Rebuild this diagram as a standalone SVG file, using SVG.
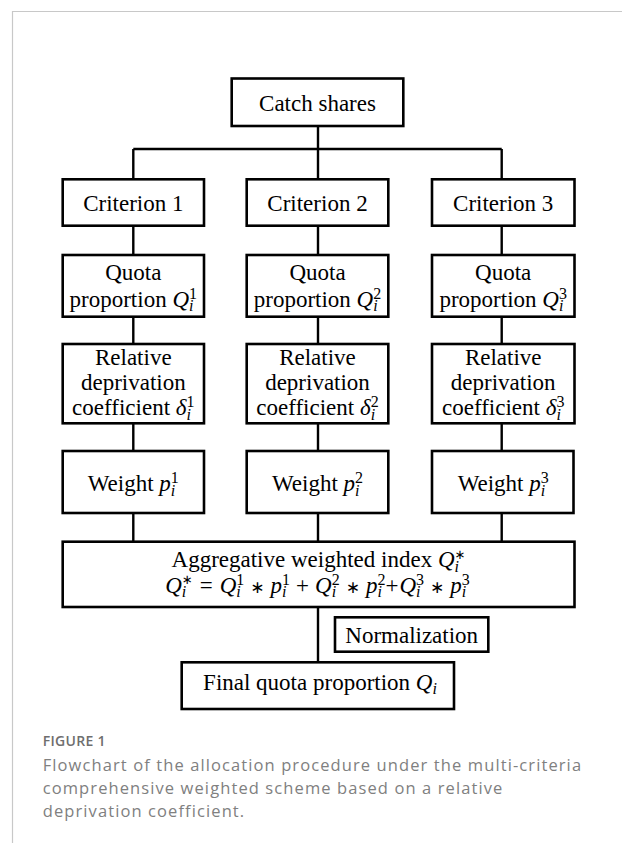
<svg xmlns="http://www.w3.org/2000/svg" width="622" height="843" viewBox="0 0 622 843">
<style>
.frame{stroke:#c8c8c8;stroke-width:1.2;fill:none}
.box{fill:#fff;stroke:#000;stroke-width:2.6}
.ln{stroke:#000;stroke-width:2.4;fill:none}
.t{font-family:"Liberation Serif","Times New Roman",serif;font-size:23px;fill:#000;text-anchor:middle}
.i{font-style:italic}
.s{font-size:16px}
.si{font-size:16px;font-style:italic}
.op{font-family:"DejaVu Sans",sans-serif;font-size:17px}
.sop{font-family:"DejaVu Sans",sans-serif;font-size:13px}
.cap{font-family:"Open Sans","Noto Sans",sans-serif;font-size:16.5px;fill:#808080;letter-spacing:1.1px}
.fig{font-family:"Open Sans","Noto Sans",sans-serif;font-size:14px;font-weight:600;fill:#6e6e6e;letter-spacing:0.3px}
</style>
<path class="frame" d="M12.5,843 V11.5 H622"/>
<g id="connectors">
<path class="ln" d="M318,126 V149 M133.3,149 H501.7 M133.3,149 V179.3 M318,149 V179.3 M501.7,149 V179.3"/>
<path class="ln" d="M133.3,225.7 V255 M318,225.7 V255 M501.7,225.7 V255"/>
<path class="ln" d="M133.3,316.7 V344 M318,316.7 V344 M501.7,316.7 V344"/>
<path class="ln" d="M133.3,423.3 V451 M318,423.3 V451 M501.7,423.3 V451"/>
<path class="ln" d="M133.3,513 V541.7 M318,513 V541.7 M501.7,513 V541.7"/>
<path class="ln" d="M318,607 V662.3"/>
</g>
<g id="catch-shares">
<rect class="box" x="231.7" y="78.5" width="171.6" height="47.5"/>
<text class="t" x="317.5" y="110.5">Catch shares</text>
</g>
<g id="criterion-1">
<rect class="box" x="62.7" y="179.3" width="141.3" height="46.4"/>
<text class="t" x="133.3" y="210.5">Criterion 1</text>
</g>
<g id="criterion-2">
<rect class="box" x="246.7" y="179.3" width="141.6" height="46.4"/>
<text class="t" x="317.5" y="210.5">Criterion 2</text>
</g>
<g id="criterion-3">
<rect class="box" x="432" y="179.3" width="142.5" height="46.4"/>
<text class="t" x="503.2" y="210.5">Criterion 3</text>
</g>
<g id="quota-1">
<rect class="box" x="62.7" y="255" width="141.3" height="61.7"/>
<text class="t" x="133.3" y="280">Quota</text>
<text class="t" x="133.3" y="306.5">proportion <tspan class="i">Q</tspan><tspan class="si" dy="4.5">i</tspan><tspan class="s" dx="-4.45" dy="-12.5">1</tspan></text>
</g>
<g id="quota-2">
<rect class="box" x="246.7" y="255" width="141.6" height="61.7"/>
<text class="t" x="317.5" y="280">Quota</text>
<text class="t" x="317.5" y="306.5">proportion <tspan class="i">Q</tspan><tspan class="si" dy="4.5">i</tspan><tspan class="s" dx="-4.45" dy="-12.5">2</tspan></text>
</g>
<g id="quota-3">
<rect class="box" x="432" y="255" width="142.5" height="61.7"/>
<text class="t" x="503.2" y="280">Quota</text>
<text class="t" x="503.2" y="306.5">proportion <tspan class="i">Q</tspan><tspan class="si" dy="4.5">i</tspan><tspan class="s" dx="-4.45" dy="-12.5">3</tspan></text>
</g>
<g id="rdc-1">
<rect class="box" x="62.7" y="344" width="141.3" height="79.3"/>
<text class="t" x="133.3" y="364.5">Relative</text>
<text class="t" x="133.3" y="390">deprivation</text>
<text class="t" x="133.3" y="415">coefficient <tspan class="i">δ</tspan><tspan class="si" dy="4.5">i</tspan><tspan class="s" dx="-4.45" dy="-12.5">1</tspan></text>
</g>
<g id="rdc-2">
<rect class="box" x="246.7" y="344" width="141.6" height="79.3"/>
<text class="t" x="317.5" y="364.5">Relative</text>
<text class="t" x="317.5" y="390">deprivation</text>
<text class="t" x="317.5" y="415">coefficient <tspan class="i">δ</tspan><tspan class="si" dy="4.5">i</tspan><tspan class="s" dx="-4.45" dy="-12.5">2</tspan></text>
</g>
<g id="rdc-3">
<rect class="box" x="432" y="344" width="142.5" height="79.3"/>
<text class="t" x="503.2" y="364.5">Relative</text>
<text class="t" x="503.2" y="390">deprivation</text>
<text class="t" x="503.2" y="415">coefficient <tspan class="i">δ</tspan><tspan class="si" dy="4.5">i</tspan><tspan class="s" dx="-4.45" dy="-12.5">3</tspan></text>
</g>
<g id="weight-1">
<rect class="box" x="62.7" y="451" width="141.3" height="62"/>
<text class="t" x="133.3" y="491">Weight <tspan class="i">p</tspan><tspan class="si" dy="4.5">i</tspan><tspan class="s" dx="-4.45" dy="-12.5">1</tspan></text>
</g>
<g id="weight-2">
<rect class="box" x="246.7" y="451" width="141.6" height="62"/>
<text class="t" x="317.5" y="491">Weight <tspan class="i">p</tspan><tspan class="si" dy="4.5">i</tspan><tspan class="s" dx="-4.45" dy="-12.5">2</tspan></text>
</g>
<g id="weight-3">
<rect class="box" x="432" y="451" width="141.5" height="62"/>
<text class="t" x="503.2" y="491">Weight <tspan class="i">p</tspan><tspan class="si" dy="4.5">i</tspan><tspan class="s" dx="-4.45" dy="-12.5">3</tspan></text>
</g>
<g id="aggregate">
<rect class="box" x="62.7" y="541.7" width="511.8" height="65.3"/>
<text class="t" x="318.5" y="567.3">Aggregative weighted index <tspan class="i">Q</tspan><tspan class="si" dy="4.5">i</tspan><tspan class="sop" dx="-4.45" dy="-13">∗</tspan></text>
<text class="t" x="317.5" y="592.7"><tspan class="i">Q</tspan><tspan class="si" dy="4.5">i</tspan><tspan class="sop" dx="-4.45" dy="-13">∗</tspan><tspan dx="7" dy="8.5">=</tspan><tspan class="i" dx="7">Q</tspan><tspan class="si" dy="4.5">i</tspan><tspan class="s" dx="-4.45" dy="-12.5">1</tspan><tspan class="op" dx="6" dy="8">∗</tspan><tspan class="i" dx="6">p</tspan><tspan class="si" dy="4.5">i</tspan><tspan class="s" dx="-4.45" dy="-12.5">1</tspan><tspan dx="6" dy="8">+</tspan><tspan class="i" dx="6">Q</tspan><tspan class="si" dy="4.5">i</tspan><tspan class="s" dx="-4.45" dy="-12.5">2</tspan><tspan class="op" dx="6" dy="8">∗</tspan><tspan class="i" dx="6">p</tspan><tspan class="si" dy="4.5">i</tspan><tspan class="s" dx="-4.45" dy="-12.5">2</tspan><tspan dx="0" dy="8">+</tspan><tspan class="i" dx="1">Q</tspan><tspan class="si" dy="4.5">i</tspan><tspan class="s" dx="-4.45" dy="-12.5">3</tspan><tspan class="op" dx="6" dy="8">∗</tspan><tspan class="i" dx="6">p</tspan><tspan class="si" dy="4.5">i</tspan><tspan class="s" dx="-4.45" dy="-12.5">3</tspan></text>
</g>
<g id="normalization">
<rect class="box" x="335" y="617.3" width="153.3" height="34.4"/>
<text class="t" x="411.7" y="642.5">Normalization</text>
</g>
<g id="final">
<rect class="box" x="181.7" y="662.3" width="272.3" height="46.7"/>
<text class="t" x="320" y="689.5">Final quota proportion <tspan class="i">Q</tspan><tspan class="si" dy="4.5">i</tspan></text>
</g>
<g id="caption">
<text class="fig" x="42.7" y="746">FIGURE 1</text>
<text class="cap" x="42.7" y="770.5">Flowchart of the allocation procedure under the multi-criteria</text>
<text class="cap" x="42.7" y="794">comprehensive weighted scheme based on a relative</text>
<text class="cap" x="42.7" y="817.3">deprivation coefficient.</text>
</g>
</svg>
